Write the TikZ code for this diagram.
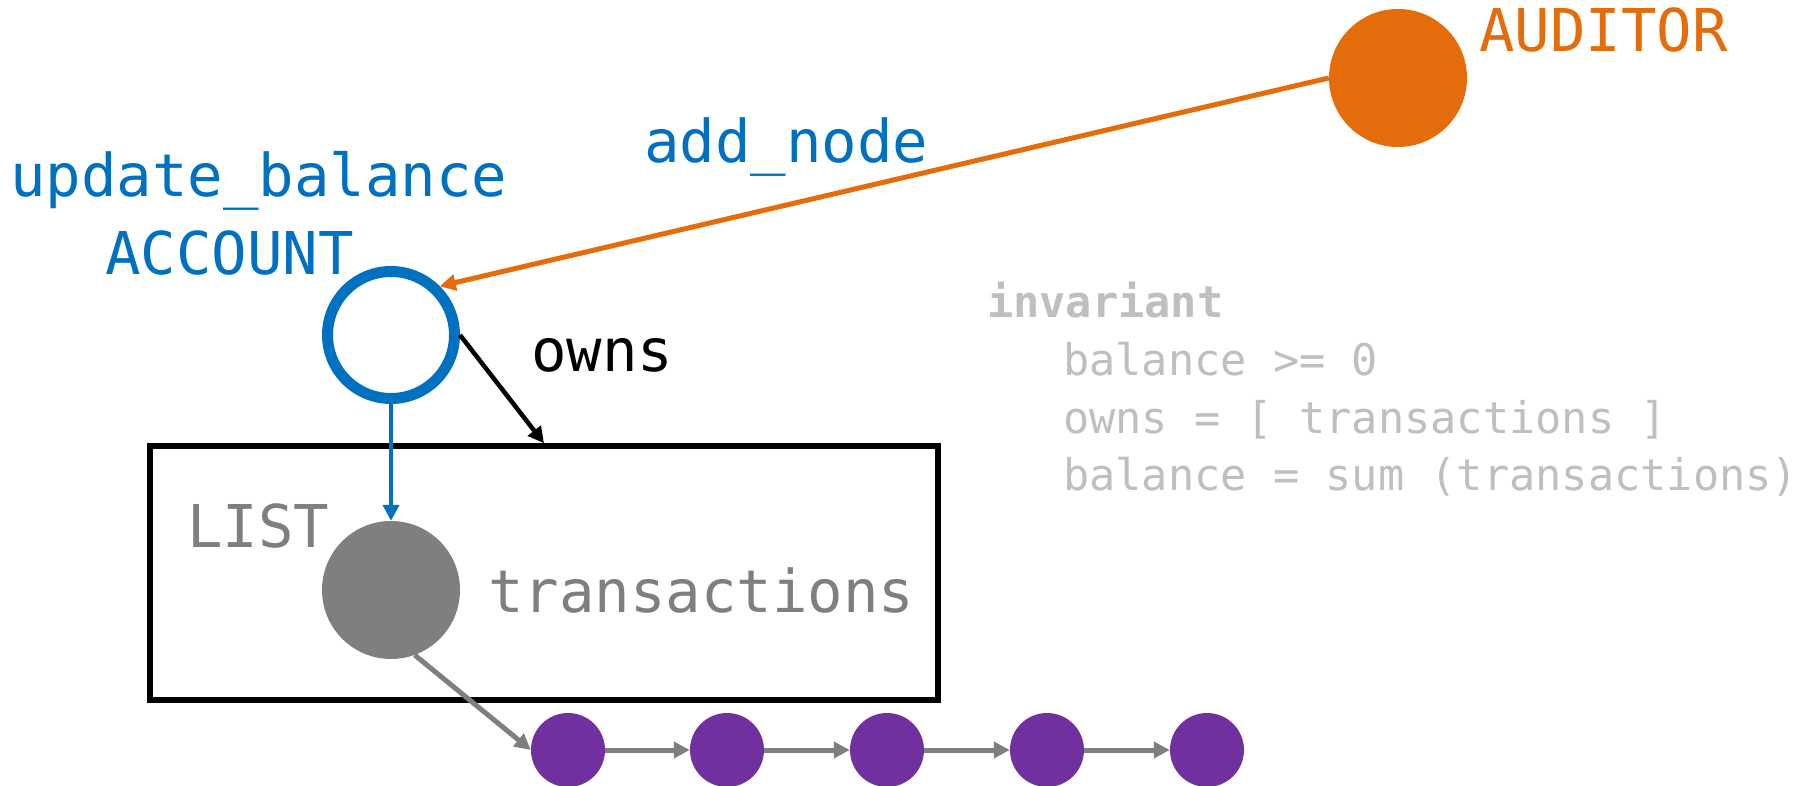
\documentclass[tikz,border=0pt]{standalone}
\usepackage{fontspec}
\setmonofont{DejaVu Sans Mono}
\usetikzlibrary{arrows.meta}
\definecolor{acctblue}{HTML}{0070C0}
\definecolor{audorange}{HTML}{E46C0A}
\definecolor{listgray}{HTML}{7F7F7F}
\definecolor{itempurple}{HTML}{7030A0}
\definecolor{invgray}{HTML}{BFBFBF}
\tikzset{
  lbl/.style={anchor=base west, inner sep=0pt, font=\fontsize{59}{70}\selectfont\ttfamily},
  inv/.style={anchor=base west, inner sep=0pt, text=invgray, font=\fontsize{43.6}{57.5}\selectfont\ttfamily},
  tip/.style={-{Triangle[length=16pt,width=16pt]}},
  item/.style={circle, fill=itempurple, minimum size=74pt, inner sep=0pt},
}

\begin{document}
\begin{tikzpicture}[x=1pt,y=-1pt]
\useasboundingbox (0,0) rectangle (1816,786);

% objects
\node[circle, draw=acctblue, line width=11pt, minimum size=127pt, inner sep=0pt] (account) at (391,335) {};
\node[circle, fill=audorange, minimum size=138pt, inner sep=0pt] (auditor) at (1398,78) {};
\node[draw, line width=5.5pt, minimum width=788pt, minimum height=254pt, inner sep=0pt] (listbox) at (544,573) {};
\node[circle, fill=listgray, minimum size=138pt, inner sep=0pt] (trans) at (391,590) {};
\foreach \i/\x in {1/568,2/727,3/887,4/1047,5/1207}
  \node[item] (p\i) at (\x,750) {};

% labels
\node[lbl, text=acctblue] (upd) at (10,197) {update\_balance};
\node[lbl, text=acctblue] (acctname) at (105,275) {ACCOUNT};
\node[lbl, text=acctblue] (addnode) at (644,163) {add\_node};
\node[lbl, text=audorange] (audname) at (1479,52) {AUDITOR};
\node[lbl] (owns) at (531,372) {owns};
\node[lbl, text=listgray] (listname) at (187,547) {LIST};
\node[lbl, text=listgray] (transname) at (488,612) {transactions};

% invariant
\node[inv, font=\fontsize{43.6}{57.5}\selectfont\ttfamily\bfseries] (inv0) at (987,318) {invariant};
\node[inv] (inv1) at (1063,376) {balance >= 0};
\node[inv] (inv2) at (1063,433) {owns = [ transactions ]};
\node[inv] (inv3) at (1063,490) {balance = sum (transactions)};

% arrows
\draw[audorange, line width=5pt, tip] (auditor.west) -- (account.45);
\draw[acctblue, line width=4.5pt, tip] (account) -- (trans);
\draw[line width=4.5pt, tip] (account.east) -- (listbox.north);
\draw[listgray, line width=5pt, tip] (trans.-70) -- (p1.west);
\foreach \a/\b in {1/2,2/3,3/4,4/5}
  \draw[listgray, line width=5pt, tip] (p\a) -- (p\b);
\end{tikzpicture}
\end{document}
